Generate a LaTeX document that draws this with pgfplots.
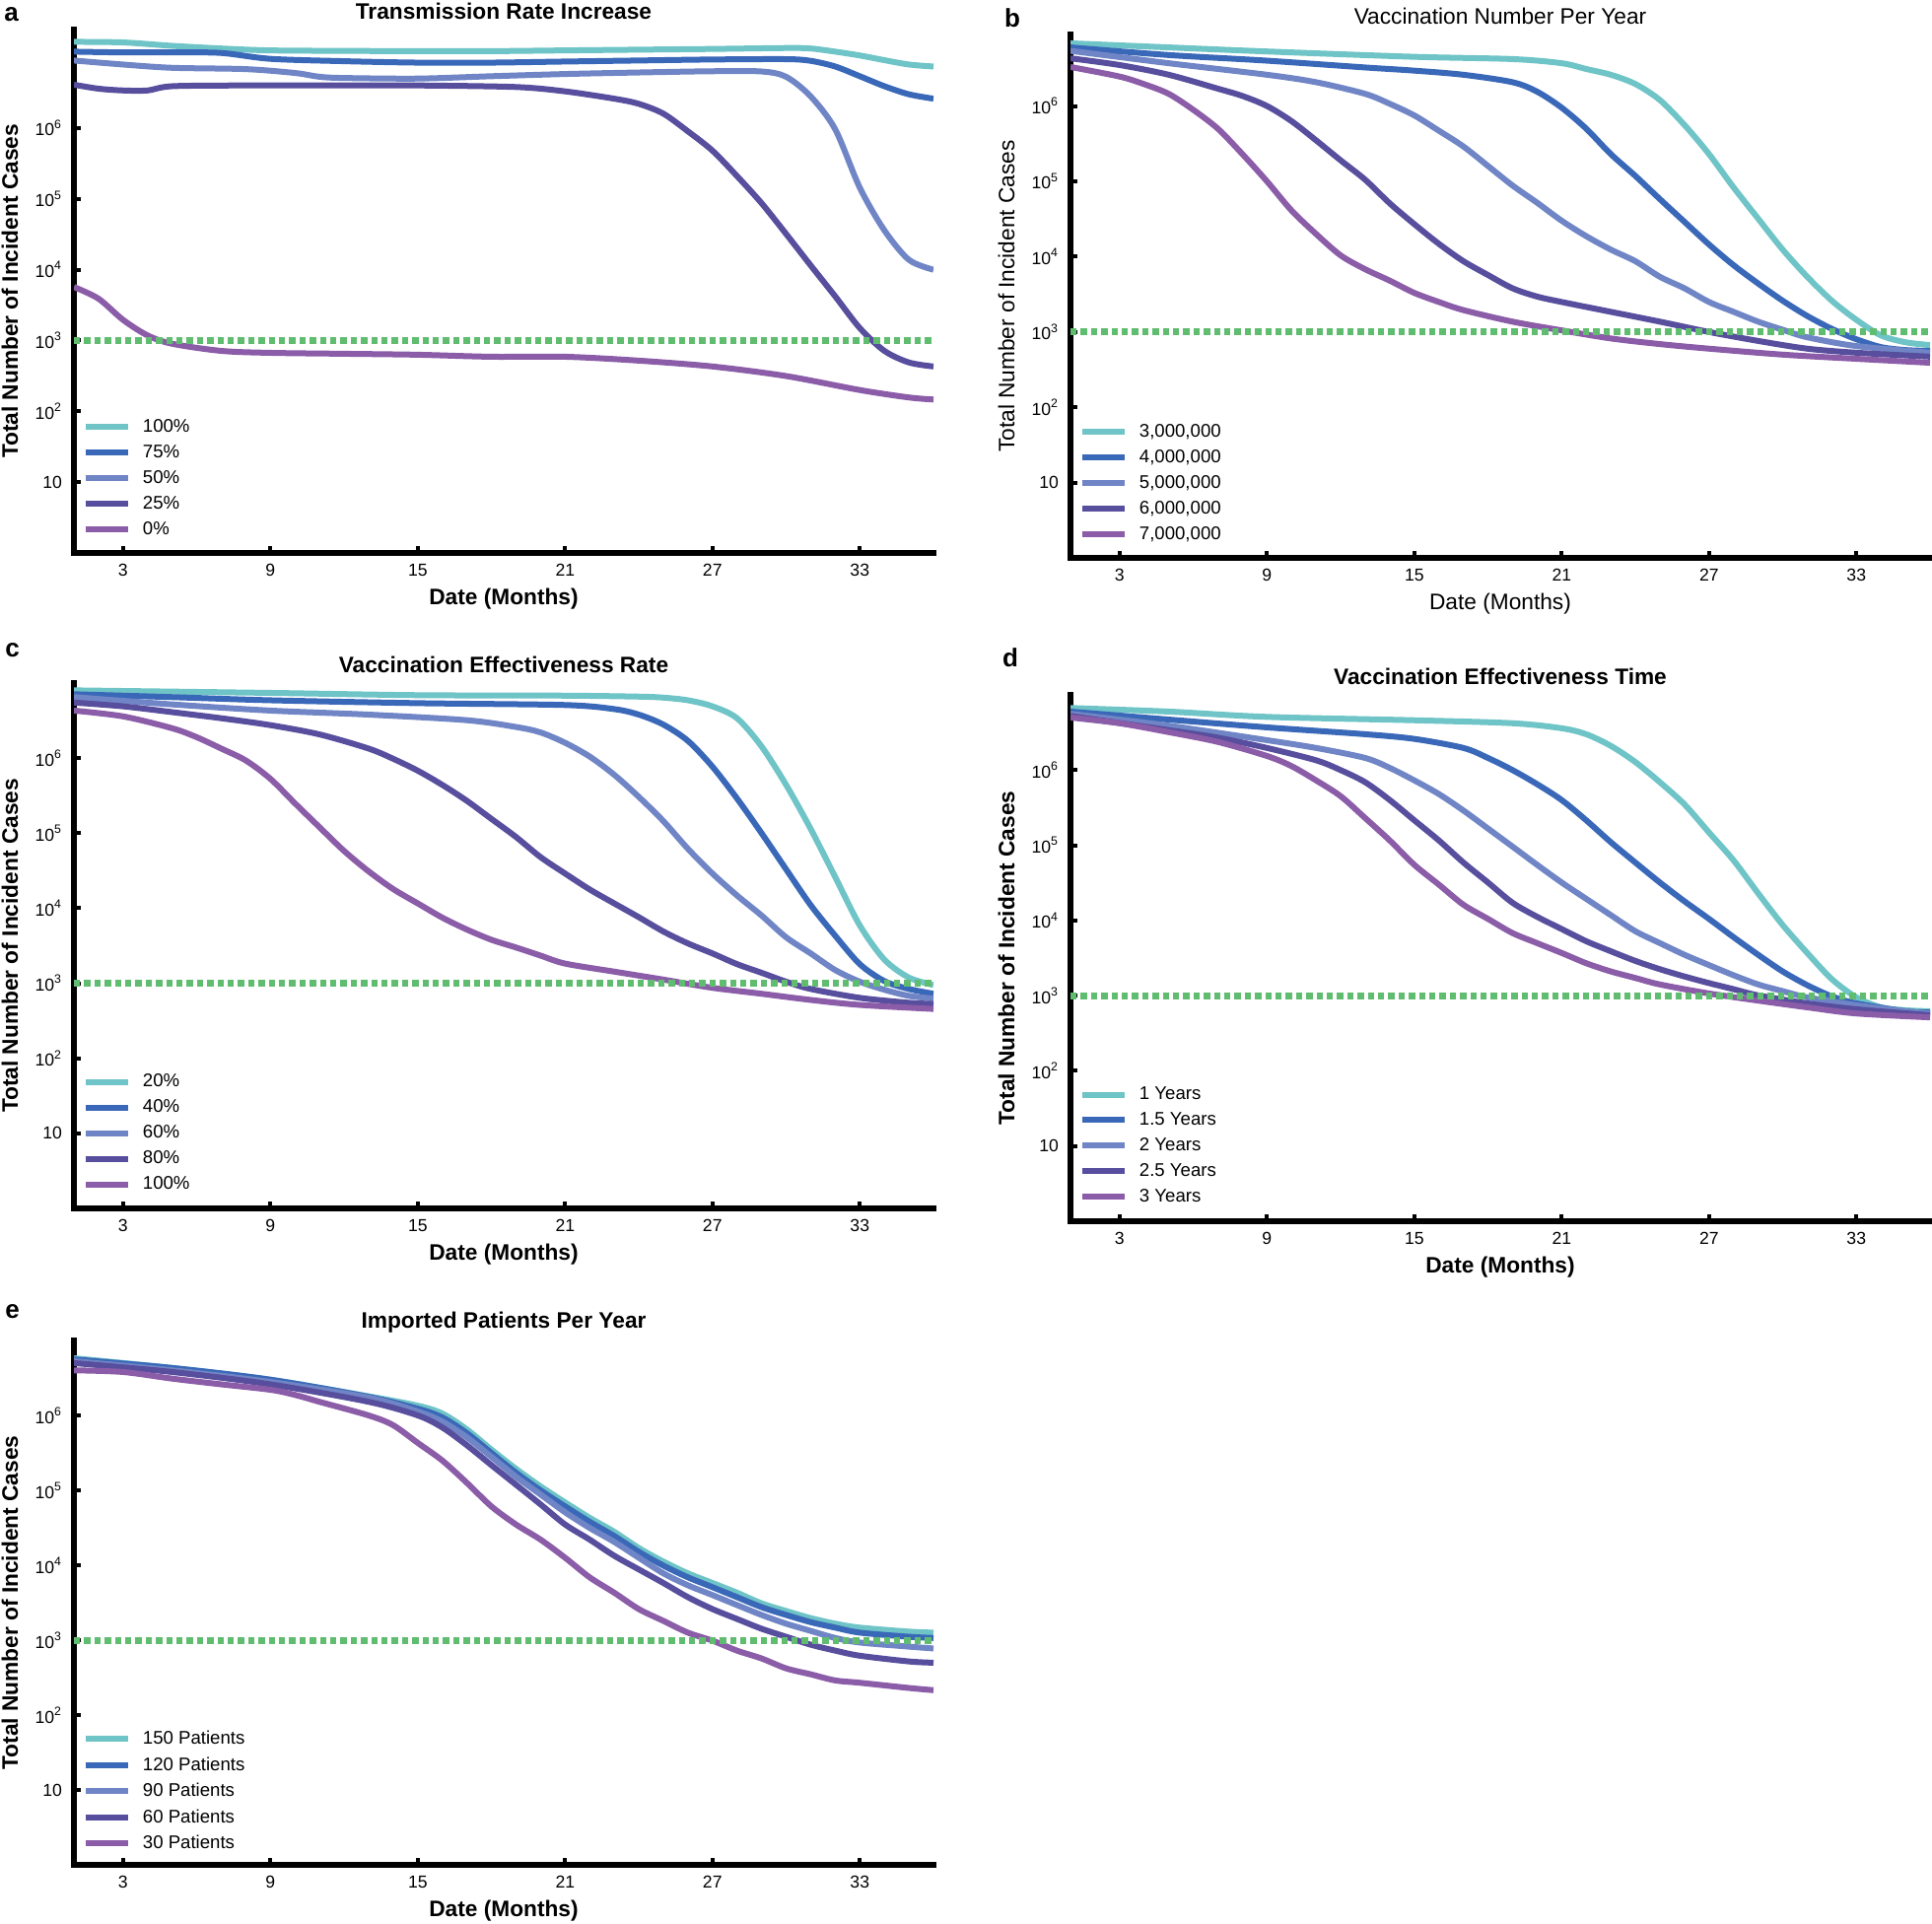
\documentclass[border=0pt]{standalone}
\usepackage{fontspec}
\setmainfont{Liberation Sans}
\usepackage{pgfplots}
\pgfplotsset{compat=1.18}

\definecolor{cteal}{RGB}{110,196,198}
\definecolor{cblue}{RGB}{58,104,184}
\definecolor{clight}{RGB}{111,133,198}
\definecolor{cindigo}{RGB}{88,78,158}
\definecolor{cpurple}{RGB}{139,92,168}
\definecolor{cgreen}{RGB}{96,189,112}

\newcommand\labfont{\fontsize{11.35}{13.6}\selectfont}

\pgfplotsset{
  s1/.style={cteal, line width=3pt, smooth},
  s2/.style={cblue, line width=3pt, smooth},
  s3/.style={clight, line width=3pt, smooth},
  s4/.style={cindigo, line width=3pt, smooth},
  s5/.style={cpurple, line width=3pt, smooth},
  thr/.style={cgreen, line width=3.5pt, dash pattern=on 3.2pt off 2pt},
  panel/.style={
    scale only axis, width=436pt, height=266pt, anchor=south west,
    xmin=1, xmax=36, ymin=1, ymax=1e7,
    axis x line*=bottom, axis y line*=left,
    axis line style={line width=2.8pt, -, line cap=rect},
    tick align=inside, major tick length=3.6pt,
    tick style={line width=2pt, black},
    yminorticks=false,
    xtick={3,9,15,21,27,33}, xticklabels={3,9,15,21,27,33},
    ytick={10,100,1000,10000,100000,1000000},
    yticklabels={10,{10\textsuperscript{2}},{10\textsuperscript{3}},{10\textsuperscript{4}},{10\textsuperscript{5}},{10\textsuperscript{6}}},
    tick label style={font=\fontsize{8.8}{10}\selectfont},
    xticklabel style={yshift=-2pt},
    yticklabel style={xshift=-2.5pt},
    title style={at={(axis description cs:0.5,1)}, anchor=center, yshift=3.25pt, font=\bfseries\labfont},
    xlabel style={at={(axis description cs:0.5,0)}, anchor=center, yshift=-23.4pt, font=\bfseries\labfont},
    ylabel style={at={(axis description cs:-0.0745,0.5)}, anchor=center, font=\bfseries\labfont},
    xlabel={Date (Months)}, ylabel={Total Number of Incident Cases},
    legend style={at={(axis description cs:0.0098,0.256)}, anchor=north west, draw=none, fill=none,
      inner sep=0pt, font=\fontsize{9.3}{11}\selectfont, row sep=5pt, column sep=6pt, nodes={inner sep=0pt}},
    legend cell align=left,
    legend image code/.code={\draw[##1] (0pt,0pt) -- (21.5pt,0pt);},
  },
}

\begin{document}
\begin{tikzpicture}
\useasboundingbox (0pt,0pt) rectangle (980pt,-975.5pt);

% a
\begin{semilogyaxis}[panel, at={(37.5pt,-280.5pt)}, height=265.5pt, ymax=2.46e7,
  title={Transmission Rate Increase}]
\addplot[s1] coordinates {(1,1.65e7)(3,1.62e7)(5,1.45e7)(7,1.33e7)(9,1.25e7)(12,1.23e7)(15,1.22e7)(18,1.22e7)(21,1.25e7)(24,1.28e7)(27,1.31e7)(30,1.35e7)(31,1.33e7)(32,1.2e7)(33,1.06e7)(34,9.1e6)(35,7.9e6)(36,7.4e6)};
\addplot[s2] coordinates {(1,1.2e7)(3,1.17e7)(5,1.17e7)(7,1.15e7)(9,9.5e6)(12,8.8e6)(15,8.4e6)(18,8.4e6)(21,8.7e6)(24,9.0e6)(27,9.3e6)(30,9.4e6)(31,8.9e6)(32,7.4e6)(33,5.4e6)(34,3.9e6)(35,3.0e6)(36,2.6e6)};
\addplot[s3] coordinates {(1,9.0e6)(3,7.9e6)(5,7.1e6)(8,6.8e6)(10,6.0e6)(11,5.3e6)(12,5.1e6)(15,5.0e6)(18,5.4e6)(21,5.8e6)(24,6.1e6)(27,6.35e6)(29,6.3e6)(30,5.3e6)(31,2.8e6)(32,9.6e5)(33,1.44e5)(34,3.6e4)(35,1.38e4)(36,1.0e4)};
\addplot[s4] coordinates {(1,4.1e6)(2,3.6e6)(3,3.4e6)(4,3.4e6)(5,3.9e6)(8,4.0e6)(12,4.0e6)(15,4.0e6)(19,3.8e6)(21,3.3e6)(23,2.6e6)(24,2.2e6)(25,1.6e6)(26,9.0e5)(27,4.8e5)(28,2.1e5)(29,8.7e4)(30,3.2e4)(31,1.15e4)(32,4.2e3)(33,1.5e3)(34,715)(35,490)(36,430)};
\addplot[s5] coordinates {(1,5.7e3)(2,3.9e3)(3,1.96e3)(4,1.18e3)(5,900)(7,714)(9,670)(12,650)(15,630)(18,590)(21,590)(24,520)(27,430)(30,315)(33,200)(35,157)(36,147)};
\addplot[thr] coordinates {(1,1000)(36,1000)};
\legend{100\%,75\%,50\%,25\%,0\%}
\end{semilogyaxis}

% b
\begin{semilogyaxis}[panel, at={(543pt,-283pt)}, height=265.5pt, ymax=8.9e6,
  title={Vaccination Number Per Year},
  title style={font=\labfont}, xlabel style={font=\labfont}, ylabel style={font=\labfont}]
\addplot[s1] coordinates {(1,6.8e6)(5,6.0e6)(9,5.3e6)(15,4.5e6)(19,4.2e6)(21,3.7e6)(22,3.1e6)(23,2.6e6)(24,1.96e6)(25,1.2e6)(26,5.6e5)(27,2.3e5)(28,8.3e4)(29,3.2e4)(30,1.24e4)(31,5.4e3)(32,2.6e3)(33,1.45e3)(34,900)(35,730)(36,670)};
\addplot[s2] coordinates {(1,6.0e6)(5,4.75e6)(9,4.0e6)(13,3.25e6)(15,2.95e6)(17,2.6e6)(19,2.07e6)(20,1.55e6)(21,9.5e5)(22,5.0e5)(23,2.3e5)(24,1.18e5)(25,5.8e4)(26,2.9e4)(27,1.45e4)(28,7.7e3)(29,4.4e3)(30,2.6e3)(31,1.63e3)(32,1.1e3)(33,800)(34,630)(35,575)(36,560)};
\addplot[s3] coordinates {(1,5.4e6)(5,3.7e6)(9,2.6e6)(11,2.07e6)(13,1.45e6)(14,1.07e6)(15,7.5e5)(16,4.7e5)(17,2.9e5)(18,1.6e5)(19,8.8e4)(20,5.2e4)(21,3.0e4)(22,1.87e4)(23,1.24e4)(24,8.7e3)(25,5.4e3)(26,3.8e3)(27,2.5e3)(28,1.85e3)(29,1.37e3)(30,1.07e3)(31,850)(33,650)(36,530)};
\addplot[s4] coordinates {(1,4.3e6)(3,3.5e6)(5,2.6e6)(7,1.7e6)(8,1.36e6)(9,1.0e6)(10,6.3e5)(11,3.5e5)(12,1.9e5)(13,1.05e5)(14,5.1e4)(15,2.7e4)(16,1.48e4)(17,8.7e3)(18,5.7e3)(19,3.8e3)(20,2.95e3)(21,2.5e3)(23,1.85e3)(25,1.37e3)(27,1.0e3)(29,760)(31,600)(33,530)(36,470)};
\addplot[s5] coordinates {(1,3.3e6)(3,2.46e6)(4,1.95e6)(5,1.45e6)(6,8.9e5)(7,5.0e5)(8,2.3e5)(9,1.0e5)(10,4.1e4)(11,2.0e4)(12,1.04e4)(13,6.8e3)(14,4.8e3)(15,3.3e3)(16,2.5e3)(17,1.95e3)(19,1.37e3)(21,1.05e3)(23,820)(25,690)(27,600)(30,500)(33,440)(36,390)};
\addplot[thr] coordinates {(1,1000)(36,1000)};
\legend{{3,000,000},{4,000,000},{5,000,000},{6,000,000},{7,000,000}}
\end{semilogyaxis}

% c
\begin{semilogyaxis}[panel, at={(37.5pt,-613pt)}, height=266.5pt,
  title={Vaccination Effectiveness Rate}]
\addplot[s1] coordinates {(1,8.0e6)(9,7.4e6)(15,6.9e6)(21,6.8e6)(24,6.6e6)(25,6.4e6)(26,5.9e6)(27,4.9e6)(28,3.4e6)(29,1.43e6)(30,4.4e5)(31,1.14e5)(32,2.6e4)(33,5.9e3)(34,2.07e3)(35,1.19e3)(36,950)};
\addplot[s2] coordinates {(1,7.1e6)(5,6.5e6)(9,5.9e6)(15,5.4e6)(21,5.1e6)(23,4.5e6)(24,3.8e6)(25,2.8e6)(26,1.7e6)(27,7.7e5)(28,2.9e5)(29,1.0e5)(30,3.3e4)(31,1.1e4)(32,4.3e3)(33,1.8e3)(34,1.07e3)(35,840)(36,725)};
\addplot[s3] coordinates {(1,6.5e6)(5,5.2e6)(9,4.3e6)(13,3.8e6)(17,3.2e6)(19,2.6e6)(20,2.2e6)(21,1.6e6)(22,1.05e6)(23,6.0e5)(24,3.05e5)(25,1.45e5)(26,6.2e4)(27,2.9e4)(28,1.48e4)(29,8.0e3)(30,4.1e3)(31,2.5e3)(32,1.5e3)(33,1.05e3)(34,820)(35,680)(36,625)};
\addplot[s4] coordinates {(1,5.5e6)(3,4.9e6)(5,4.1e6)(7,3.4e6)(9,2.75e6)(11,2.07e6)(13,1.34e6)(14,9.8e5)(15,6.8e5)(16,4.4e5)(17,2.7e5)(18,1.55e5)(19,8.9e4)(20,4.8e4)(21,2.9e4)(22,1.78e4)(23,1.16e4)(24,7.6e3)(25,4.9e3)(26,3.4e3)(27,2.5e3)(28,1.8e3)(29,1.38e3)(30,1.05e3)(31,840)(33,640)(35,550)(36,530)};
\addplot[s5] coordinates {(1,4.3e6)(3,3.6e6)(5,2.5e6)(6,1.9e6)(7,1.34e6)(8,9.3e5)(9,5.3e5)(10,2.5e5)(11,1.2e5)(12,5.8e4)(13,3.1e4)(14,1.8e4)(15,1.16e4)(16,7.5e3)(17,5.2e3)(18,3.8e3)(19,3.0e3)(20,2.34e3)(21,1.83e3)(23,1.43e3)(25,1.12e3)(27,870)(29,725)(31,600)(33,515)(36,455)};
\addplot[thr] coordinates {(1,1000)(36,1000)};
\legend{20\%,40\%,60\%,80\%,100\%}
\end{semilogyaxis}

% d
\begin{semilogyaxis}[panel, at={(543pt,-619.5pt)}, height=267pt,
  title={Vaccination Effectiveness Time}]
\addplot[s1] coordinates {(1,6.7e6)(5,6.0e6)(9,5.1e6)(15,4.6e6)(19,4.2e6)(21,3.6e6)(22,3.0e6)(23,2.1e6)(24,1.28e6)(25,6.9e5)(26,3.5e5)(27,1.48e5)(28,6.3e4)(29,2.3e4)(30,8.7e3)(31,3.7e3)(32,1.66e3)(33,950)(34,700)(35,640)(36,620)};
\addplot[s2] coordinates {(1,6.0e6)(5,4.7e6)(9,3.7e6)(13,3.0e6)(15,2.6e6)(17,1.97e6)(18,1.45e6)(19,1.0e6)(20,6.5e5)(21,4.0e5)(22,2.15e5)(23,1.1e5)(24,5.9e4)(25,3.2e4)(26,1.8e4)(27,1.05e4)(28,6.0e3)(29,3.5e3)(30,2.1e3)(31,1.38e3)(32,980)(33,790)(35,620)(36,600)};
\addplot[s3] coordinates {(1,5.6e6)(5,3.9e6)(9,2.5e6)(11,1.97e6)(13,1.45e6)(14,1.07e6)(15,7.3e5)(16,4.8e5)(17,2.9e5)(18,1.67e5)(19,9.6e4)(20,5.5e4)(21,3.2e4)(22,1.94e4)(23,1.18e4)(24,7.2e3)(25,5.0e3)(26,3.5e3)(27,2.55e3)(28,1.87e3)(29,1.41e3)(30,1.15e3)(31,950)(33,745)(35,620)(36,580)};
\addplot[s4] coordinates {(1,5.25e6)(5,3.4e6)(7,2.7e6)(9,1.97e6)(11,1.35e6)(12,1.0e6)(13,6.9e5)(14,4.0e5)(15,2.15e5)(16,1.16e5)(17,5.9e4)(18,3.2e4)(19,1.72e4)(20,1.12e4)(21,7.7e3)(22,5.3e3)(23,3.9e3)(24,2.9e3)(25,2.25e3)(26,1.8e3)(27,1.47e3)(28,1.22e3)(29,1.01e3)(31,790)(33,660)(36,550)};
\addplot[s5] coordinates {(1,5.0e6)(3,4.2e6)(5,3.2e6)(7,2.37e6)(9,1.54e6)(10,1.13e6)(11,7.3e5)(12,4.5e5)(13,2.3e5)(14,1.16e5)(15,5.5e4)(16,3.0e4)(17,1.62e4)(18,1.05e4)(19,6.8e3)(20,5.0e3)(21,3.7e3)(22,2.7e3)(23,2.1e3)(24,1.72e3)(25,1.41e3)(27,1.07e3)(29,860)(31,700)(33,580)(36,515)};
\addplot[thr] coordinates {(1,1000)(36,1000)};
\legend{1 Years,1.5 Years,2 Years,2.5 Years,3 Years}
\end{semilogyaxis}

% e
\begin{semilogyaxis}[panel, at={(37.5pt,-946pt)}, height=266pt,
  title={Imported Patients Per Year}]
\addplot[s1] coordinates {(1,5.8e6)(5,4.3e6)(9,3.0e6)(13,1.8e6)(15,1.35e6)(16,1.06e6)(17,6.5e5)(18,3.5e5)(19,1.94e5)(20,1.13e5)(21,6.9e4)(22,4.3e4)(23,2.8e4)(24,1.7e4)(25,1.12e4)(26,7.8e3)(27,5.8e3)(28,4.3e3)(29,3.1e3)(30,2.45e3)(31,1.97e3)(32,1.66e3)(33,1.47e3)(35,1.3e3)(36,1.26e3)};
\addplot[s2] coordinates {(1,5.6e6)(5,4.3e6)(9,3.0e6)(13,1.77e6)(15,1.23e6)(16,9.4e5)(17,5.8e5)(18,3.15e5)(19,1.72e5)(20,1.0e5)(21,6.1e4)(22,3.8e4)(23,2.46e4)(24,1.51e4)(25,9.9e3)(26,6.9e3)(27,5.1e3)(28,3.75e3)(29,2.76e3)(30,2.17e3)(31,1.74e3)(32,1.47e3)(33,1.26e3)(35,1.11e3)(36,1.07e3)};
\addplot[s3] coordinates {(1,5.3e6)(5,4.0e6)(9,2.8e6)(13,1.73e6)(15,1.13e6)(16,8.3e5)(17,5.1e5)(18,2.8e5)(19,1.52e5)(20,8.8e4)(21,5.1e4)(22,3.15e4)(23,2.05e4)(24,1.26e4)(25,7.8e3)(26,5.4e3)(27,4.0e3)(28,2.94e3)(29,2.17e3)(30,1.66e3)(31,1.33e3)(32,1.07e3)(33,930)(35,820)(36,775)};
\addplot[s4] coordinates {(1,5.0e6)(5,3.8e6)(9,2.6e6)(13,1.52e6)(15,1.0e6)(16,6.9e5)(17,4.0e5)(18,2.17e5)(19,1.19e5)(20,6.5e4)(21,3.5e4)(22,2.2e4)(23,1.34e4)(24,8.8e3)(25,5.8e3)(26,3.75e3)(27,2.6e3)(28,1.92e3)(29,1.42e3)(30,1.11e3)(31,870)(32,725)(33,620)(35,520)(36,500)};
\addplot[s5] coordinates {(1,4.0e6)(3,3.8e6)(5,3.1e6)(7,2.6e6)(9,2.2e6)(10,1.88e6)(11,1.52e6)(13,1.0e6)(14,7.4e5)(15,4.3e5)(16,2.5e5)(17,1.26e5)(18,6.1e4)(19,3.5e4)(20,2.2e4)(21,1.26e4)(22,6.9e3)(23,4.3e3)(24,2.6e3)(25,1.81e3)(26,1.26e3)(27,985)(28,725)(29,570)(30,420)(31,350)(32,290)(33,270)(35,230)(36,215)};
\addplot[thr] coordinates {(1,1000)(36,1000)};
\legend{150 Patients,120 Patients,90 Patients,60 Patients,30 Patients}
\end{semilogyaxis}

\begin{scope}[font=\bfseries\fontsize{13}{15}\selectfont]
\node at (5.75pt,-7.5pt) {a};
\node at (513.5pt,-9pt) {b};
\node at (6.25pt,-330pt) {c};
\node at (512.5pt,-333.5pt) {d};
\node at (6.25pt,-665.5pt) {e};
\end{scope}
\end{tikzpicture}
\end{document}
